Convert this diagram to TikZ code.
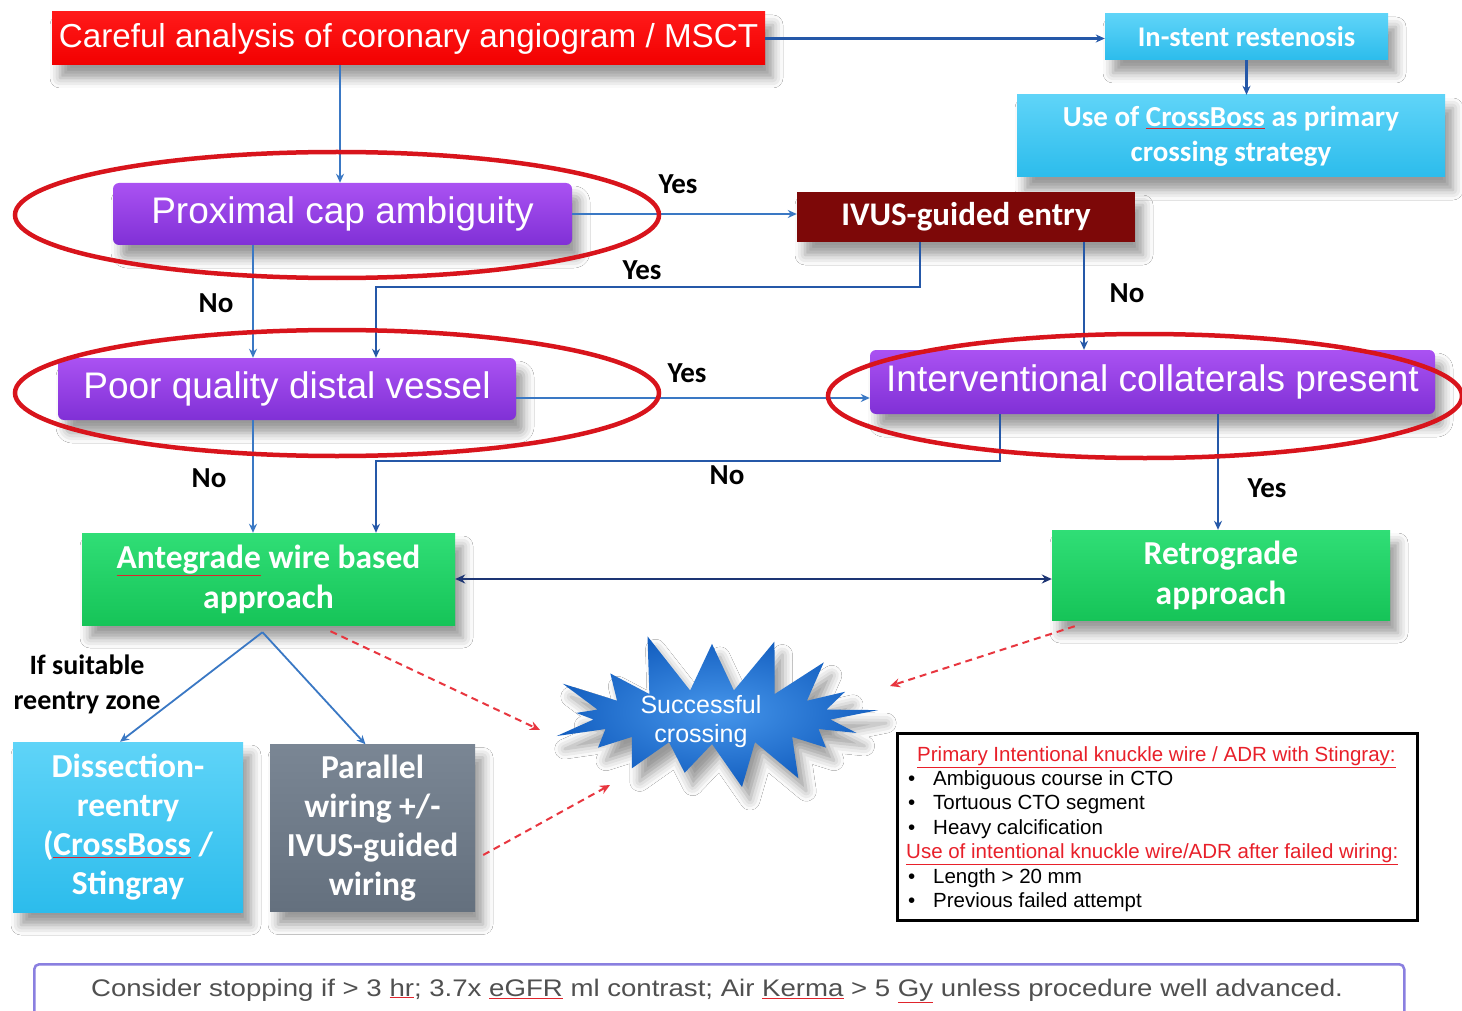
\documentclass[tikz,border=0pt]{standalone}
\usepackage{fontspec}
\setmainfont{Liberation Sans}
\newfontfamily\calib{Carlito}
\usetikzlibrary{shapes.symbols,shadows.blur,arrows.meta,calc}
\definecolor{flowblue}{HTML}{3A78C4}
\definecolor{darkblue}{HTML}{2558A8}
\definecolor{navy}{HTML}{1D3574}
\definecolor{ringred}{HTML}{D8141C}
\definecolor{dashred}{HTML}{E8363F}
\definecolor{squig}{HTML}{E0242C}
\definecolor{txtgray}{HTML}{505050}
\definecolor{hdrred}{HTML}{E8202A}
\definecolor{frame}{HTML}{8A7FE0}
\newcommand\wavy[1]{{\color{squig}\underline{\color{white}#1}}}
\newcommand\wavyg[1]{{\color{squig}\underline{\color{txtgray}#1}}}
\newcommand\bul[1]{\hspace*{2pt}\makebox[25pt][l]{\textbullet}#1}
\begin{document}
\begin{tikzpicture}[x=1pt,y=-1pt,
  every node/.style={inner sep=0pt},
  shd/.style={blur shadow={shadow xshift=8pt,shadow yshift=-13pt,shadow blur radius=10pt,shadow opacity=40}},
  redbox/.style={shd,top color=red!90!white,bottom color=red!95!black,text=white,font=\fontsize{33.2}{38}\selectfont},
  cyanbox/.style={shd,top color={rgb,255:red,95;green,212;blue,248},bottom color={rgb,255:red,44;green,188;blue,236},text=white,align=center,font=\calib\bfseries\fontsize{29}{35}\selectfont},
  purplebox/.style={shd,rounded corners=6pt,top color={rgb,255:red,170;green,82;blue,242},bottom color={rgb,255:red,128;green,48;blue,214},text=white,font=\fontsize{37}{44}\selectfont},
  darkredbox/.style={shd,fill={rgb,255:red,125;green,8;blue,8},text=white,font=\calib\bfseries\fontsize{33}{37}\selectfont},
  greenbox/.style={shd,top color={rgb,255:red,48;green,222;blue,118},bottom color={rgb,255:red,22;green,196;blue,88},text=white,align=center,font=\calib\bfseries\fontsize{33.5}{40}\selectfont},
  graybox/.style={shd,top color={rgb,255:red,122;green,134;blue,148},bottom color={rgb,255:red,100;green,112;blue,126},text=white,align=center,font=\calib\bfseries\fontsize{33.5}{39}\selectfont},
  lbl/.style={font=\calib\bfseries\fontsize{29}{31}\selectfont,text=black},
  arr/.style={draw=flowblue,line width=1.8pt,-{Stealth[length=9pt,width=8pt]}},
  ring/.style={draw=ringred,line width=4.5pt},
  dasharr/.style={draw=dashred,line width=2pt,dash pattern=on 7pt off 5pt,-{Stealth[length=10pt,width=9pt]}},
]
\useasboundingbox (0,0) rectangle (1462,1011);
\fill[white] (0,0) rectangle (1462,1011);

% column helpers
\coordinate (c253) at (253,0);
\coordinate (c340) at (340,0);
\coordinate (c376) at (376,0);
\coordinate (c920) at (920,0);
\coordinate (c1000) at (1000,0);
\coordinate (c1084) at (1084,0);
\coordinate (c1218) at (1218,0);

% nodes
\node[redbox,minimum width=713pt,minimum height=53pt] (careful) at (408.5,38.5) {Careful analysis of coronary angiogram / MSCT};
\node[cyanbox,minimum width=283pt,minimum height=46pt,font=\calib\bfseries\fontsize{28.5}{34}\selectfont] (instent) at (1246.5,37) {In-stent restenosis};
\node[cyanbox,minimum width=428pt,minimum height=82pt] (crossboss) at (1231,136) {Use of \wavy{CrossBoss} as primary\\crossing strategy};
\node[purplebox,minimum width=459pt,minimum height=62pt] (prox) at (342.5,214) {Proximal cap ambiguity};
\node[darkredbox,minimum width=338pt,minimum height=50pt] (ivus) at (966,217) {IVUS-guided entry};
\node[purplebox,minimum width=458pt,minimum height=62pt] (poor) at (287,389) {Poor quality distal vessel};
\node[purplebox,minimum width=565pt,minimum height=64pt] (inter) at (1152.5,382) {Interventional collaterals present};
\node[greenbox,minimum width=373pt,minimum height=92pt] (ante) at (268.5,579) {\wavy{Antegrade} wire based\\approach};
\node[greenbox,minimum width=338pt,minimum height=90pt] (retro) at (1221,575) {Retrograde\\approach};
\node[cyanbox,minimum width=230pt,minimum height=170pt,font=\calib\bfseries\fontsize{33.5}{39}\selectfont] (dis) at (128,827) {Dissection-\\reentry\\(\wavy{CrossBoss} /\\Stingray};
\node[graybox,minimum width=205pt,minimum height=167pt] (par) at (372.5,828) {Parallel\\wiring +/-\\IVUS-guided\\wiring};
\node[starburst,starburst points=17,starburst point height=62pt,random starburst=11,
      minimum width=362pt,minimum height=178pt,inner color={rgb,255:red,70;green,150;blue,235},outer color={rgb,255:red,20;green,95;blue,192},
      shd] (burst) at (712,717) {};
\node[text=white,align=center,font=\fontsize{25}{29}\selectfont] (bursttxt) at (701,722) {Successful\\crossing};

% info box
\node[draw=black,line width=3pt,minimum width=520pt,minimum height=187pt] (info) at (1157,826.5) {};
\node[anchor=north west,align=left,font=\fontsize{20.5}{24.4}\selectfont,text=black] (infotxt) at (906,746)
 {\hspace*{11pt}{\color{hdrred}\underline{Primary Intentional knuckle wire / ADR with Stingray:}}\\
  \bul{Ambiguous course in CTO}\\
  \bul{Tortuous CTO segment}\\
  \bul{Heavy calcification}\\
  {\color{hdrred}\underline{Use of intentional knuckle wire/ADR after failed wiring:}}\\
  \bul{Length > 20 mm}\\
  \bul{Previous failed attempt}};

% bottom box
\node[draw=frame,line width=2.5pt,rounded corners=5pt,fill=white,minimum width=1370pt,minimum height=56pt,anchor=north west] (bottom) at (33,963) {};
\node[text=txtgray,font=\fontsize{24}{28}\selectfont] (bottomtxt) at (717,991) {\scalebox{1.15}[1]{Consider stopping if > 3 \wavyg{hr}; 3.7x \wavyg{eGFR} ml contrast; Air \wavyg{Kerma} > 5 \wavyg{Gy} unless procedure well advanced.}};

% connectors
\draw[arr,draw=darkblue,line width=2.6pt] (careful.east) -- (careful.east -| instent.west);
\draw[arr,draw=darkblue,line width=2.6pt] (instent.south) -- (instent.south |- crossboss.north);
\draw[arr] (careful.south -| c340) -- (prox.north -| c340);
\draw[arr] (prox.east) -- (prox.east -| ivus.west);
\draw[arr,draw=darkblue,line width=2.4pt] (ivus.south -| c920) -- ++(0,45) -| (poor.north -| c376);
\draw[arr,draw=darkblue,line width=2.4pt] (ivus.south -| c1084) -- (inter.north -| c1084);
\draw[arr] (prox.south -| c253) -- (poor.north -| c253);
\draw[arr] ([yshift=-9pt]poor.east) -- ([yshift=-9pt]poor.east -| inter.west);
\draw[arr] (poor.south -| c253) -- (ante.north -| c253);
\draw[arr,draw=darkblue,line width=2.4pt] (inter.south -| c1000) -- ++(0,47) -| (ante.north -| c376);
\draw[arr,draw=darkblue,line width=2.4pt] (inter.south -| c1218) -- (retro.north -| c1218);
\draw[draw=navy,line width=2.4pt,{Stealth[length=10pt,width=9pt]}-{Stealth[length=10pt,width=9pt]}] (ante.east) -- (ante.east -| retro.west);
\draw[arr] ([xshift=-6pt,yshift=-7pt]ante.south) -- ([xshift=-8pt]dis.north);
\draw[arr] ([xshift=-6pt,yshift=-7pt]ante.south) -- ([xshift=-7pt]par.north);

\coordinate (bw) at (540,730);
\coordinate (be) at (890,686);
\coordinate (bs) at (610,785);
\draw[dasharr] ([xshift=62pt,yshift=-6pt]ante.south) -- (bw);
\draw[dasharr] ([xshift=23pt,yshift=-6pt]retro.south west) -- (be);
\draw[dasharr] ([xshift=8pt,yshift=-27pt]par.east) -- (bs);

% labels
\node[lbl] (l1) at (678,184) {Yes};
\node[lbl] (l2) at (642,270) {Yes};
\node[lbl] (l3) at (1127,293) {No};
\node[lbl] (l4) at (216,303) {No};
\node[lbl] (l5) at (687,373) {Yes};
\node[lbl] (l6) at (209,478) {No};
\node[lbl] (l7) at (727,475) {No};
\node[lbl] (l8) at (1267,488) {Yes};
\node[lbl,align=center,font=\calib\bfseries\fontsize{28}{35}\selectfont] (l9) at (87,684) {If suitable\\reentry zone};

% red rings
\draw[ring] (337,215) ellipse [x radius=322, y radius=63];
\draw[ring] (337,393) ellipse [x radius=322, y radius=63];
\draw[ring] (1145,396) ellipse [x radius=317, y radius=62];
\end{tikzpicture}
\end{document}
